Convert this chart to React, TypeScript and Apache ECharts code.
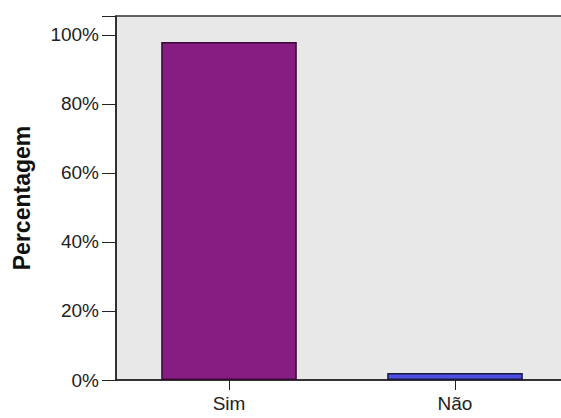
import React, { useEffect, useRef } from "react";
import * as echarts from "echarts";

const categories = ["Sim", "Não"];
const percentValues = [98, 2];
const barColors = ["#871d82", "#4f4fe6"];
const barBorders = ["#3a0a36", "#1a1a40"];
const yTicks = [0, 20, 40, 60, 80, 100];

export default function App() {
  const ref = useRef<HTMLDivElement>(null);
  useEffect(() => {
    if (!ref.current) return;
    const chart = echarts.init(ref.current, null, { renderer: "svg" });
    chart.setOption({
      animation: false,
      backgroundColor: "#ffffff",
      textStyle: { fontFamily: "Liberation Sans, Arial, sans-serif" },
      grid: {
        left: 116,
        width: 452,
        top: 16,
        bottom: 38,
        outerBoundsMode: "none",
        containLabel: false,
        show: true,
        backgroundColor: "#e8e8e8",
        borderColor: "#333",
        borderWidth: 1.5,
      },
      xAxis: {
        type: "category",
        data: categories,
        axisLine: { show: true, lineStyle: { color: "#222", width: 1.5 } },
        axisTick: { show: true, alignWithLabel: true, length: 10, lineStyle: { color: "#222" } },
        axisLabel: { color: "#222", fontSize: 19, margin: 14 },
      },
      yAxis: {
        type: "value",
        min: 0,
        max: 105.5,
        interval: 20,
        splitLine: { show: false },
        axisLine: { show: true, lineStyle: { color: "#222", width: 1.5 } },
        axisTick: { show: true, length: 14, lineStyle: { color: "#222" } },
        axisLabel: {
          color: "#222",
          fontSize: 19,
          margin: 17,
          formatter: (v: number) => (yTicks.includes(v) ? v + "%" : ""),
        },
        name: "Percentagem",
        nameLocation: "middle",
        nameGap: 83,
        nameRotate: 90,
        nameTextStyle: { color: "#111", fontSize: 23, fontWeight: "bold" },
      },
      series: [
        {
          type: "bar",
          barWidth: "60%",
          data: percentValues.map((v, i) => ({
            value: v,
            itemStyle: {
              color: barColors[i],
              borderColor: barBorders[i],
              borderWidth: 1.5,
            },
          })),
        },
      ],
    });
    return () => chart.dispose();
  }, []);
  return (
    <div
      ref={ref}
      style={{ position: "fixed", left: 0, top: 0, width: 561, height: 418 }}
    />
  );
}
